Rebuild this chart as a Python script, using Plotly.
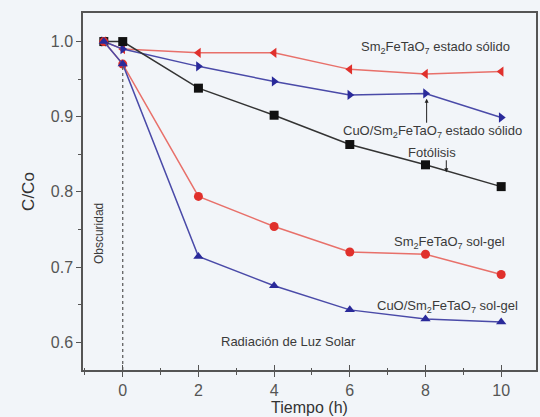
import plotly.graph_objects as go

# ---- data ----
tiempo = [-0.5, 0, 2, 4, 6, 8, 10]
sm_solido = [1.0, 0.99, 0.985, 0.985, 0.963, 0.957, 0.960]
cuo_solido = [1.0, 0.99, 0.967, 0.947, 0.929, 0.931, 0.899]
fotolisis = [1.0, 1.0, 0.938, 0.902, 0.863, 0.836, 0.807]
sm_solgel = [1.0, 0.97, 0.794, 0.754, 0.720, 0.717, 0.690]
cuo_solgel = [1.0, 0.97, 0.714, 0.675, 0.643, 0.631, 0.627]

x_ticks = [0, 2, 4, 6, 8, 10]
y_ticks = [0.6, 0.7, 0.8, 0.9, 1.0]
y_labels = ["0.6", "0.7", "0.8", "0.9", "1.0"]

RED = "#e0302c"
RED_LINE = "#e8706a"
BLUE = "#2a2a9a"
BLUE_LINE = "#4a4aa8"
BLACK = "#111111"
BG = "#f2f5f9"
FONT = "Liberation Sans"
AX = "#555555"

fig = go.Figure()

series = [
    (sm_solido, "triangle-left", RED, RED_LINE),
    (cuo_solido, "triangle-right", BLUE, BLUE_LINE),
    (fotolisis, "square", BLACK, "#333333"),
    (sm_solgel, "circle", RED, RED_LINE),
    (cuo_solgel, "triangle-up", BLUE, BLUE_LINE),
]
for vals, sym, mc, lc in series:
    fig.add_trace(go.Scatter(
        x=tiempo, y=vals, mode="lines+markers",
        line=dict(color=lc, width=1.5),
        marker=dict(symbol=sym, size=9, color=mc),
        showlegend=False,
    ))

# invisible trace to anchor the overlay axis used for crossing ticks
fig.add_trace(go.Scatter(x=[None], y=[None], xaxis="x2", yaxis="y",
                         showlegend=False, hoverinfo="skip"))

# dashed dark-period boundary
fig.add_shape(type="line", x0=0, x1=0, y0=0.563, y1=0.97, xref="x", yref="y",
              line=dict(color=AX, width=1.2, dash="dot"))

ann_font = dict(family=FONT, size=13, color="#3a3a3a")
annotations = [
    dict(x=8.26, y=0.992, text="Sm<sub>2</sub>FeTaO<sub>7</sub> estado sólido"),
    dict(x=8.18, y=0.881, text="CuO/Sm<sub>2</sub>FeTaO<sub>7</sub> estado sólido"),
    dict(x=8.18, y=0.853, text="Fotólisis"),
    dict(x=8.63, y=0.733, text="Sm<sub>2</sub>FeTaO<sub>7</sub> sol-gel"),
    dict(x=8.58, y=0.648, text="CuO/Sm<sub>2</sub>FeTaO<sub>7</sub> sol-gel"),
    dict(x=4.37, y=0.601, text="Radiación de Luz Solar"),
]
for a in annotations:
    fig.add_annotation(x=a["x"], y=a["y"], text=a["text"], showarrow=False,
                       font=ann_font, xref="x", yref="y")
fig.add_annotation(x=-0.63, y=0.745, text="Obscuridad", textangle=-90,
                   showarrow=False, font=dict(family=FONT, size=12, color="#3a3a3a"),
                   xref="x", yref="y")

# arrows
fig.add_annotation(x=8.03, y=0.924, ax=8.03, ay=0.890, axref="x", ayref="y",
                   xref="x", yref="y", text="", showarrow=True, arrowhead=2,
                   arrowsize=0.8, arrowwidth=1, arrowcolor="#222222")
fig.add_annotation(x=8.55, y=0.826, ax=8.55, ay=0.844, axref="x", ayref="y",
                   xref="x", yref="y", text="", showarrow=True, arrowhead=2,
                   arrowsize=0.8, arrowwidth=1, arrowcolor="#222222")

tick_font = dict(family=FONT, size=16, color=AX)
fig.update_layout(
    width=540, height=417,
    margin=dict(l=83, r=2, t=13, b=47),
    paper_bgcolor=BG, plot_bgcolor=BG,
    xaxis=dict(
        range=[-1.05, 10.92], tickvals=x_ticks, ticktext=[str(v) for v in x_ticks],
        ticks="outside", ticklen=5, tickwidth=1.3, tickcolor=AX,
        minor=dict(ticks="outside", dtick=1, tick0=1, ticklen=3, tickcolor=AX),
        showline=True, linecolor=AX, linewidth=1.5, mirror=True,
        showgrid=False, zeroline=False, tickfont=tick_font,
        title=dict(text="Tiempo (h)", font=dict(family=FONT, size=16, color="#333333"),
                   standoff=4),
    ),
    xaxis2=dict(
        overlaying="x", matches="x", anchor="y", side="bottom",
        tickvals=x_ticks, ticks="inside", ticklen=5, tickwidth=1.3, tickcolor=AX,
        minor=dict(ticks="inside", dtick=1, tick0=1, ticklen=2, tickcolor=AX),
        showticklabels=False, showline=False, showgrid=False, zeroline=False,
    ),
    yaxis=dict(
        range=[0.563, 1.038], tickvals=y_ticks, ticktext=y_labels,
        ticks="outside", ticklen=5, tickwidth=1.3, tickcolor=AX,
        minor=dict(ticks="outside", dtick=0.05, tick0=0.55, ticklen=3, tickcolor=AX),
        showline=True, linecolor=AX, linewidth=1.5, mirror=True,
        showgrid=False, zeroline=False, tickfont=tick_font,
        title=dict(text="C/Co", font=dict(family=FONT, size=17, color="#333333"),
                   standoff=12),
    ),
)

fig.write_html("out.html")
